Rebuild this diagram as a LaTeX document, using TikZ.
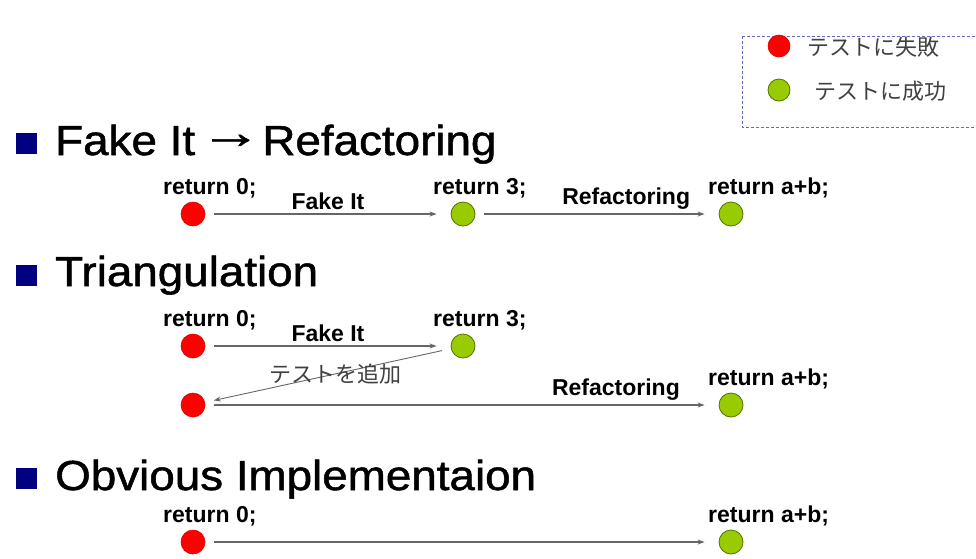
\documentclass[tikz,border=0pt]{standalone}
\usepackage{fontspec}
\setmainfont{Liberation Sans}
\newfontfamily\headfont{Liberation Sans}[FakeStretch=1.09, FakeBold=1.2]
\newfontfamily\jpfont{Noto Sans CJK JP}
\usetikzlibrary{positioning,arrows.meta}

\definecolor{failred}{HTML}{FF0000}
\definecolor{passgreen}{HTML}{99CC00}
\definecolor{bulletblue}{HTML}{000080}
\definecolor{linegray}{HTML}{666666}
\definecolor{legendline}{HTML}{6666CC}

\begin{document}
\begin{tikzpicture}[x=1pt, y=-1pt]
        \tikzstyle{every node}=[inner sep=0pt]
        \tikzstyle{fail}=[circle, minimum size=24pt, fill=failred, draw=failred!85!black, line width=0.6pt]
        \tikzstyle{pass}=[circle, minimum size=24pt, fill=passgreen, draw=passgreen!55!black, line width=0.8pt]
        \tikzstyle{bullet}=[rectangle, minimum size=21pt, fill=bulletblue]
        \tikzstyle{heading}=[anchor=base west, font=\headfont\fontsize{42}{50}\selectfont]
        \tikzstyle{code}=[font=\bfseries\fontsize{23}{26}\selectfont]
        \tikzstyle{jp}=[text=black!75, font=\jpfont\fontsize{22}{26}\selectfont]
        \tikzstyle{move}=[draw=linegray, line width=1.2pt, -{Stealth[length=7pt,width=5pt]}, shorten <=9pt, shorten >=14pt]
        \useasboundingbox (0,0) rectangle (976,558);
        % legend
        \draw[legendline, densely dashed, line width=0.8pt] (742,36) rectangle (990,127);
        \node[fail, minimum size=22pt] (lfail) at (779,46) {};
        \node[jp, anchor=west] (lfailtext) at (807,47) {テストに失敗};
        \node[pass, minimum size=22pt] (lpass) at (779,90) {};
        \node[jp, anchor=west] (lpasstext) at (814,91) {テストに成功};
        % Fake It -> Refactoring
        \node[bullet] (b1) at (26,143) {};
        \node[heading] (h1) at (55,155) {Fake It \kern-8pt\raisebox{7pt}{\scalebox{1.35}[1.1]{→}}\kern-12pt{} Refactoring};
        \node[fail] (r1) at (193,214) {};
        \node[pass] (g1) at (463,214) {};
        \node[pass] (g2) at (731,214) {};
        \node[code, above right=3pt and -30pt of r1.north] (r1code) {return 0;};
        \node[code, above right=3pt and -30pt of g1.north] (g1code) {return 3;};
        \node[code, above right=3pt and -23pt of g2.north] (g2code) {return a+b;};
        \draw[move] (r1) -- node[code, above=4pt, pos=0.5] {Fake It} (g1);
        \draw[move] (g1) -- node[code, above=4pt, pos=0.62] {Refactoring} (g2);
        % Triangulation
        \node[bullet] (b2) at (26,275) {};
        \node[heading] (h2) at (55,286) {Triangulation};
        \node[fail] (r2) at (193,346) {};
        \node[pass] (g3) at (463,346) {};
        \node[fail] (r3) at (193,405) {};
        \node[pass] (g4) at (731,405) {};
        \node[code, above right=3pt and -30pt of r2.north] (r2code) {return 0;};
        \node[code, above right=3pt and -30pt of g3.north] (g3code) {return 3;};
        \node[code, above right=3pt and -23pt of g4.north] (g4code) {return a+b;};
        \draw[move] (r2) -- node[code, above=4pt, pos=0.5] {Fake It} (g3);
        \draw[move, line width=0.9pt, shorten >=9pt] (g3) -- node[jp, pos=0.47] {テストを追加} (r3);
        \draw[move] (r3) -- node[code, above=4pt, pos=0.8] {Refactoring} (g4);
        % Obvious Implementaion
        \node[bullet] (b3) at (26,478) {};
        \node[heading] (h3) at (55,490) {Obvious Implementaion};
        \node[fail] (r4) at (193,542) {};
        \node[pass] (g5) at (731,542) {};
        \node[code, above right=3pt and -30pt of r4.north] (r4code) {return 0;};
        \node[code, above right=3pt and -23pt of g5.north] (g5code) {return a+b;};
        \draw[move] (r4) -- (g5);
\end{tikzpicture}
\end{document}
